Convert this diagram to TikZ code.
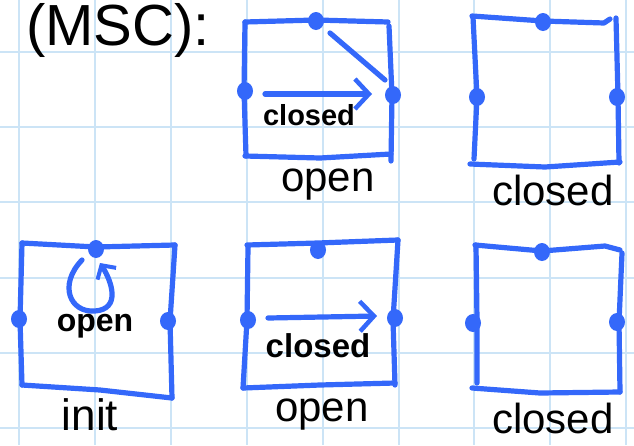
\documentclass[tikz,border=0pt]{standalone}
\usepackage{fontspec}
\setmainfont{Liberation Sans}
\usetikzlibrary{arrows.meta}
\definecolor{pen}{RGB}{52,104,250}
\definecolor{gridc}{RGB}{204,228,246}
\tikzset{
  gridline/.style={draw=gridc, line width=1.8pt},
  stroke/.style={draw=pen, line width=5.2pt, line cap=round, line join=round},
  arrowstroke/.style={stroke, -{Straight Barb[length=14pt,width=30pt,line width=4.5pt]}},
  dotc/.style={fill=pen, ellipse, inner sep=0pt, minimum width=16pt, minimum height=18pt},
  lab/.style={font=\fontsize{42}{44}\selectfont, text=black, inner sep=0pt},
  inlab/.style={font=\bfseries\fontsize{32}{34}\selectfont, text=black, inner sep=0pt},
}
\usetikzlibrary{shapes.geometric}
\begin{document}
\begin{tikzpicture}[x=1pt,y=-1pt]
\useasboundingbox (0,0) rectangle (634,445);
\fill[white] (0,0) rectangle (634,445);
% grid
\foreach \gx in {19,95,171,247,323,399,474,550,626} \draw[gridline] (\gx,0) -- (\gx,445);
\foreach \gy in {52,127,202,278,353,428} \draw[gridline] (0,\gy) -- (634,\gy);
% title
\node[font=\fontsize{58}{60}\selectfont, inner sep=0pt] (title) at (118,30) {(MSC):};

% ---------- Box 1: top open ----------
\draw[stroke] (245,22) -- (316,20) -- (388,22);
\draw[stroke] (389,26) -- (392,95) -- (391,161);
\draw[stroke] (245,156) -- (320,158) -- (391,154);
\draw[stroke] (245,22) -- (244,90) -- (246,156);
\node[dotc] (t1) at (316,21) {};
\node[dotc] (l1) at (245,91) {};
\node[dotc] (r1) at (393,95) {};
\coordinate (a1s) at (265,94);
\coordinate (a1e) at (372,94);
\draw[arrowstroke] (a1s) -- (a1e);
\coordinate (d1s) at (330,33);
\coordinate (d1e) at (385,80);
\draw[stroke] (d1s) -- (d1e);
\node[inlab, font=\bfseries\fontsize{29}{31}\selectfont] (c1) at (309,115) {closed};
\node[lab] (n1) at (328,185) {open};

% ---------- Box 2: top closed ----------
\draw[stroke] (472,16) -- (543,21) -- (604,23) -- (610,19);
\draw[stroke] (616,18) -- (618,97) -- (619,163);
\draw[stroke] (470,164) -- (545,167) -- (620,162);
\draw[stroke] (473,17) -- (477,97) -- (474,159);
\node[dotc] (t2) at (543,22) {};
\node[dotc] (l2) at (477,97) {};
\node[dotc] (r2) at (617,97) {};
\node[lab] (n2) at (553,190) {closed};

% ---------- Box 3: init ----------
\draw[stroke] (22,243) -- (96,247) -- (175,245);
\draw[stroke] (175,245) -- (170,321) -- (172,398);
\draw[stroke] (22,385) -- (100,390) -- (172,398);
\draw[stroke] (22,243) -- (20,320) -- (22,385);
\node[dotc] (t3) at (96,249) {};
\node[dotc] (l3) at (19,319) {};
\node[dotc] (r3) at (168,321) {};
\coordinate (lp1) at (82,260);
\coordinate (lp2) at (100,263);
\draw[stroke, -{Straight Barb[length=10pt,width=22pt,line width=4pt]}]
  (lp1) .. controls (58,285) and (70,313) .. (95,311)
        .. controls (121,309) and (112,282) .. (lp2);
\node[inlab, font=\bfseries\fontsize{32}{34}\selectfont] (o3) at (95,326) {open};
\node[lab, font=\fontsize{44}{46}\selectfont] (n3) at (90,415) {init};

% ---------- Box 4: bottom open ----------
\draw[stroke] (247,245) -- (318,243) -- (398,240);
\draw[stroke] (398,240) -- (393,320) -- (395,385);
\draw[stroke] (243,388) -- (320,385) -- (395,383);
\draw[stroke] (248,247) -- (247,320) -- (243,388);
\node[dotc] (t4) at (318,250) {};
\node[dotc] (l4) at (248,320) {};
\node[dotc] (r4) at (395,318) {};
\coordinate (a4s) at (268,318);
\coordinate (a4e) at (377,316);
\draw[arrowstroke] (a4s) -- (a4e);
\node[inlab, font=\bfseries\fontsize{33}{35}\selectfont] (c4) at (318,346) {closed};
\node[lab] (n4) at (322,415) {open};

% ---------- Box 5: bottom closed ----------
\draw[stroke] (475,245) -- (542,251) -- (605,246) -- (620,250);
\draw[stroke] (476,245) -- (477,320) -- (477,383);
\draw[stroke] (472,388) -- (540,393) -- (620,392);
\draw[stroke] (622,253) -- (619,322) -- (620,392);
\node[dotc] (t5) at (542,252) {};
\node[dotc] (l5) at (473,323) {};
\node[dotc] (r5) at (617,322) {};
\node[lab] (n5) at (553,418) {closed};
\end{tikzpicture}
\end{document}
